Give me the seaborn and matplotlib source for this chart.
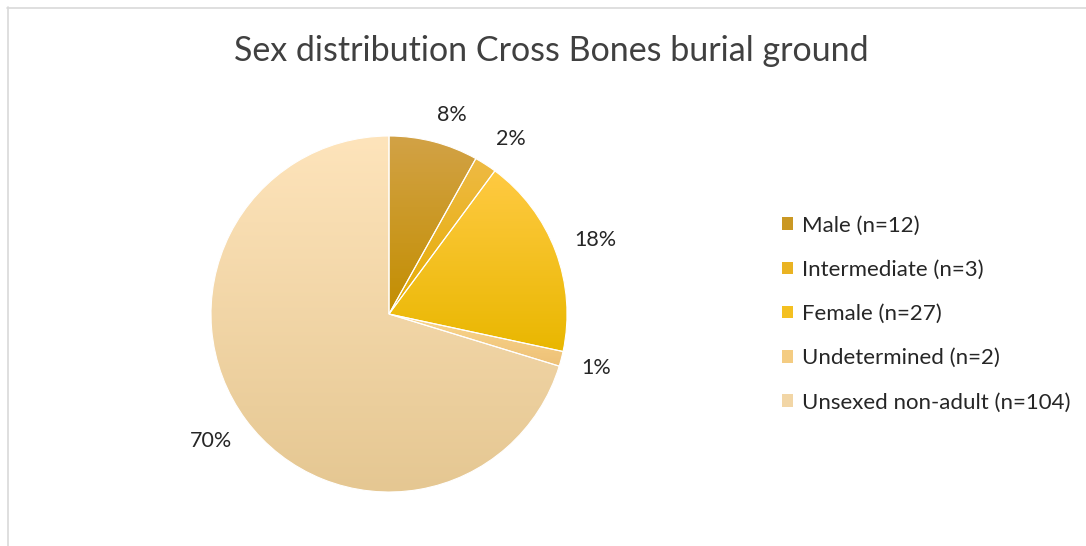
import numpy as np
import matplotlib
matplotlib.use("Agg")
import matplotlib.pyplot as plt
import matplotlib.colors as mcolors
from matplotlib.patches import Patch
from matplotlib.lines import Line2D
import seaborn as sns

# Burial counts per sex category
categories = ["Male (n=12)", "Intermediate (n=3)", "Female (n=27)",
              "Undetermined (n=2)", "Unsexed non-adult (n=104)"]
counts = [12, 3, 27, 2, 104]

# Vertical gradient (top, bottom) for each slice
grad_top = ["#D2A246", "#EEBA44", "#FFCA42", "#FAD68C", "#FEE4BB"]
grad_bottom = ["#C38E00", "#E6AC00", "#E9B700", "#EEC177", "#E5C792"]

title = "Sex distribution Cross Bones burial ground"

sns.set_theme(style="white")
plt.rcParams["font.family"] = ["Lato", "DejaVu Sans"]

W, H = 1086, 546
fig = plt.figure(figsize=(W / 100, H / 100), dpi=100)
fig.patch.set_facecolor("white")

# Pie centre and radius in pixels
cx, cy, r = 389, 314, 178
ax = fig.add_axes([(cx - r) / W, (H - cy - r) / H, 2 * r / W, 2 * r / H])

mid_cols = [mcolors.to_hex((np.array(mcolors.to_rgb(a)) + np.array(mcolors.to_rgb(b))) / 2)
            for a, b in zip(grad_top, grad_bottom)]

wedges, _, autotexts = ax.pie(
    counts, colors=mid_cols, startangle=90, counterclock=False,
    autopct=lambda p: f"{p:.0f}%", pctdistance=1.2, radius=1.0,
    wedgeprops=dict(edgecolor="white", linewidth=0.8),
    textprops=dict(fontsize=15.5, color="#262626"),
)
ax.set_aspect("equal")
ax.axis("off")

# Gradient fill clipped to each slice
for w, top, bot in zip(wedges, grad_top, grad_bottom):
    x0, y0, x1, y1 = w.get_path().get_extents().extents
    t = np.array(mcolors.to_rgb(top))
    b = np.array(mcolors.to_rgb(bot))
    f = np.linspace(0, 1, 256)[:, None]
    img = (t * (1 - f) + b * f)[:, None, :]
    im = ax.imshow(img, extent=(x0, x1, y0, y1), origin="upper",
                   aspect="auto", zorder=1, interpolation="bilinear")
    im.set_clip_path(w)
    w.set_facecolor("none")
    w.set_zorder(2)

# Outside-end data labels, nudged per slice
label_dist = [1.17, 1.2, 1.23, 1.2, 1.23]
label_turn = [-3.0, -2.0, -1.0, 0.0, -1.0]
for w, txt, d, dt in zip(wedges, autotexts, label_dist, label_turn):
    ang = np.deg2rad((w.theta1 + w.theta2) / 2 + dt)
    txt.set_position((d * np.cos(ang), d * np.sin(ang)))
    txt.set_clip_on(False)

ax.set_xlim(-1, 1)
ax.set_ylim(-1, 1)

fig.text(551 / W, 1 - 51 / H, title, ha="center", va="center",
         fontsize=24.5, color="#404040")

handles = [Patch(facecolor=c, edgecolor="none") for c in mid_cols]
fig.legend(handles, categories, loc="center left",
           bbox_to_anchor=(782 / W, 1 - 314 / H), frameon=False,
           fontsize=16, labelspacing=1.09, handlelength=0.5,
           handleheight=0.5, handletextpad=0.42, labelcolor="#262626",
           borderaxespad=0.0, borderpad=0.0)

# Chart-area border along top and left edges
fig.add_artist(Line2D([7 / W, 1], [1 - 7.5 / H, 1 - 7.5 / H],
                      transform=fig.transFigure, color="#D9D9D9", lw=1.2))
fig.add_artist(Line2D([7.5 / W, 7.5 / W], [0, 1 - 7 / H],
                      transform=fig.transFigure, color="#D9D9D9", lw=1.2))

fig.savefig("out.png", dpi=100, facecolor="white")
